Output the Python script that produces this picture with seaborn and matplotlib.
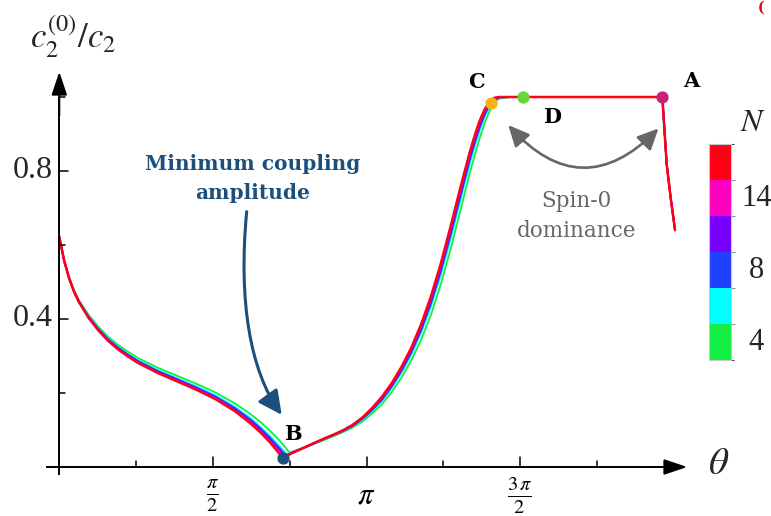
import matplotlib
matplotlib.use("Agg")
import matplotlib.pyplot as plt
import pandas as pd
import seaborn as sns
from matplotlib.patches import FancyArrowPatch
from matplotlib.path import Path
from matplotlib.colors import ListedColormap, BoundaryNorm
from matplotlib.cm import ScalarMappable

# ---------------------------------------------------------------- data
n_values = [4, 6, 8, 10, 14, 16]
n_colors = ["#12ee44", "#00ffff", "#1f40ff", "#7800ff", "#ff00c0", "#ff0014"]
n_labelled = [4, 8, 14]

# falling branch (theta from 0 up to the minimum)
theta_left = [0.00, 0.05, 0.10, 0.15, 0.20, 0.30, 0.40, 0.50, 0.60, 0.70,
              0.80, 1.00, 1.20, 1.40, 1.60, 1.80, 1.95, 2.05, 2.15, 2.25]
ratio_left = {
    4:  [0.622, 0.559, 0.513, 0.478, 0.451, 0.411, 0.379, 0.352, 0.330, 0.312,
         0.295, 0.269, 0.247, 0.225, 0.201, 0.171, 0.144, 0.123, 0.099, 0.072],
    6:  [0.622, 0.558, 0.512, 0.476, 0.449, 0.407, 0.375, 0.347, 0.325, 0.306,
         0.289, 0.263, 0.240, 0.218, 0.193, 0.162, 0.133, 0.110, 0.085, 0.057],
    8:  [0.622, 0.558, 0.511, 0.476, 0.448, 0.406, 0.373, 0.345, 0.323, 0.304,
         0.287, 0.260, 0.238, 0.215, 0.190, 0.158, 0.129, 0.106, 0.080, 0.051],
    10: [0.622, 0.557, 0.511, 0.475, 0.447, 0.405, 0.371, 0.343, 0.321, 0.302,
         0.285, 0.258, 0.235, 0.213, 0.187, 0.155, 0.125, 0.101, 0.075, 0.046],
    14: [0.622, 0.557, 0.510, 0.474, 0.446, 0.404, 0.370, 0.342, 0.319, 0.300,
         0.283, 0.256, 0.234, 0.211, 0.185, 0.152, 0.122, 0.098, 0.071, 0.041],
    16: [0.622, 0.557, 0.510, 0.474, 0.446, 0.403, 0.369, 0.341, 0.318, 0.299,
         0.282, 0.255, 0.232, 0.209, 0.183, 0.150, 0.119, 0.095, 0.068, 0.036],
}
# minimum of each curve (theta, ratio)
minimum = {4: (2.355, 0.039), 6: (2.325, 0.034), 8: (2.315, 0.031),
           10: (2.305, 0.029), 14: (2.295, 0.027), 16: (2.285, 0.025)}

# rising branch
theta_right = [2.40, 2.50, 2.60, 2.70, 2.80, 2.90, 3.00, 3.10, 3.20, 3.30,
               3.40, 3.50, 3.60, 3.70, 3.80, 3.90, 4.00, 4.10, 4.20, 4.25,
               4.30, 4.35, 4.40, 4.45, 4.50]
ratio_right = {
    4:  [0.043, 0.052, 0.062, 0.072, 0.083, 0.094, 0.107, 0.123, 0.145, 0.170,
         0.203, 0.242, 0.289, 0.344, 0.411, 0.493, 0.588, 0.692, 0.798, 0.845,
         0.890, 0.930, 0.962, 0.985, 0.996],
    6:  [0.042, 0.052, 0.063, 0.074, 0.085, 0.096, 0.110, 0.128, 0.152, 0.179,
         0.214, 0.255, 0.304, 0.363, 0.434, 0.518, 0.615, 0.720, 0.823, 0.869,
         0.911, 0.947, 0.973, 0.991, 0.998],
    8:  [0.041, 0.052, 0.063, 0.075, 0.086, 0.097, 0.111, 0.130, 0.154, 0.182,
         0.218, 0.260, 0.310, 0.370, 0.442, 0.528, 0.626, 0.730, 0.833, 0.878,
         0.919, 0.953, 0.978, 0.993, 0.999],
    10: [0.041, 0.052, 0.064, 0.075, 0.086, 0.098, 0.112, 0.132, 0.157, 0.186,
         0.221, 0.264, 0.316, 0.376, 0.450, 0.537, 0.636, 0.740, 0.842, 0.886,
         0.927, 0.958, 0.981, 0.995, 0.999],
    14: [0.040, 0.052, 0.064, 0.076, 0.087, 0.099, 0.113, 0.133, 0.159, 0.188,
         0.224, 0.268, 0.320, 0.381, 0.456, 0.543, 0.643, 0.748, 0.848, 0.893,
         0.932, 0.963, 0.985, 0.997, 1.000],
    16: [0.040, 0.052, 0.064, 0.076, 0.087, 0.099, 0.114, 0.134, 0.160, 0.190,
         0.227, 0.271, 0.323, 0.386, 0.461, 0.549, 0.649, 0.754, 0.854, 0.898,
         0.937, 0.967, 0.987, 0.998, 1.000],
}

# plateau and final drop, shared by all N
theta_top = [4.62, 6.166, 6.21, 6.25, 6.296]
ratio_top = [1.000, 1.000, 0.82, 0.73, 0.64]

# marked points
point_names = ["A", "B", "C", "D"]
point_theta = [6.166, 2.285, 4.41, 4.745]
point_ratio = [1.000, 0.025, 0.983, 1.000]
point_colors = ["#c8227a", "#1b4f7c", "#f7b21b", "#66d63a"]

# axis ticks
x_ticks = [0.7854 * k for k in range(1, 8)]
x_major = {2: r"$\frac{\pi}{2}$", 4: r"$\pi$", 6: r"$\frac{3\,\pi}{2}$"}
y_ticks = [0.2, 0.4, 0.6, 0.8, 1.0]
y_major = {0.4: "0.4", 0.8: "0.8"}

# ---------------------------------------------------------------- frame
rows = []
for n in n_values:
    th = theta_left + [minimum[n][0]] + theta_right + theta_top
    rv = ratio_left[n] + [minimum[n][1]] + ratio_right[n] + ratio_top
    rows += [{"theta": t, "ratio": r, "N": n} for t, r in zip(th, rv)]
df = pd.DataFrame(rows)

sns.set_style("white")
plt.rcParams["mathtext.fontset"] = "stix"
plt.rcParams["font.family"] = ["DejaVu Serif", "DejaVu Sans"]

W, H = 771, 516
fig = plt.figure(figsize=(W / 100, H / 100), dpi=100)
ax = fig.add_axes([0, 0, 1, 1])
ax.set_axis_off()

PX_X, X0 = 97.8, 59.3      # pixels per radian, pixel of theta = 0
PX_Y, Y0 = 370.0, 467.0    # pixels per unit ratio, pixel row of ratio = 0
ax.set_xlim(-X0 / PX_X, (W - X0) / PX_X)
ax.set_ylim((Y0 - H) / PX_Y, Y0 / PX_Y)

sns.lineplot(data=df, x="theta", y="ratio", hue="N", hue_order=n_values,
             palette=n_colors, sort=False, estimator=None, legend=False,
             linewidth=1.35, ax=ax)
for line in ax.lines:
    line.set_solid_joinstyle("round")
ax.lines[-1].set_linewidth(1.8)

# axes with arrow heads
ax.plot([-0.14, 6.2], [0, 0], color="black", lw=1.4, solid_capstyle="butt")
ax.plot([0, 0], [-0.022, 1.0], color="black", lw=1.4, solid_capstyle="butt")
head = dict(arrowstyle="-|>,head_length=0.95,head_width=0.32",
            mutation_scale=15, color="black", lw=1.4,
            shrinkA=0, shrinkB=0)
ax.annotate("", xy=(6.42, 0), xytext=(6.0, 0), arrowprops=head)
ax.annotate("", xy=(0, 1.068), xytext=(0, 0.95), arrowprops=head)

for k, xt in enumerate(x_ticks, start=1):
    ln = 10 if k in x_major else 6
    ax.plot([xt, xt], [0, ln / PX_Y], color="black", lw=1.1)
    if k in x_major:
        ax.text(xt, -0.077, x_major[k], ha="center", va="center",
                fontsize=22 if k == 4 else 21, color="black")
for yt in y_ticks:
    ln = 9 if yt in y_major else 5.5
    ax.plot([0, ln / PX_X], [yt, yt], color="black", lw=1.1)
    if yt in y_major:
        ax.text(-0.07, yt, y_major[yt], ha="right", va="center",
                fontsize=23, family="Liberation Serif")

ax.text(0.14, 1.163, r"$c_2^{(0)}/c_2$", ha="center", va="center", fontsize=25)
ax.text(6.746, 0.01, r"$\theta$", ha="center", va="center", fontsize=28)

# marked points
for tx, ry, c in zip(point_theta, point_ratio, point_colors):
    ax.plot(tx, ry, "o", ms=7.8, color=c, mec=c, zorder=5)

label_pos = {"A": (6.459, 1.028), "B": (2.39, 0.073),
             "C": (4.261, 1.024), "D": (5.038, 0.930)}
for name in point_names:
    x, y = label_pos[name]
    ax.text(x, y, name, ha="center", va="baseline", fontsize=15,
            fontweight="bold", family="DejaVu Serif", color="black")

# annotation: minimum coupling
navy = "#1b4f7c"
ax.text(1.981, 0.8027, "Minimum coupling", ha="center", va="baseline",
        fontsize=14.5, fontweight="bold", color=navy)
ax.text(1.981, 0.7243, "amplitude", ha="center", va="baseline",
        fontsize=14.5, fontweight="bold", color=navy)
verts = [(1.916, 0.690), (1.83, 0.45), (1.95, 0.26), (2.274, 0.141)]
curve = Path(verts, [Path.MOVETO, Path.CURVE4, Path.CURVE4, Path.CURVE4])
ax.add_patch(FancyArrowPatch(path=curve,
                             arrowstyle="-|>,head_length=0.9,head_width=0.45",
                             mutation_scale=16, color=navy, lw=2.2))

# annotation: spin-0 dominance
grey = "#666666"
ax.add_patch(FancyArrowPatch((4.591, 0.924), (6.127, 0.915),
                             connectionstyle="arc3,rad=0.53",
                             arrowstyle="<|-|>,head_length=0.85,head_width=0.4",
                             mutation_scale=15, color=grey, lw=1.9,
                             shrinkA=0, shrinkB=0))
ax.text(5.29, 0.7035, "Spin-0", ha="center", va="baseline",
        fontsize=15.5, color=grey)
ax.text(5.29, 0.6224, "dominance", ha="center", va="baseline",
        fontsize=15.5, color=grey)

# discrete colour bar for N
cax = fig.add_axes([709 / W, 1 - 360 / H, 22 / W, 216 / H])
sm = ScalarMappable(norm=BoundaryNorm(range(len(n_values) + 1), len(n_values)),
                    cmap=ListedColormap(n_colors))
cb = fig.colorbar(sm, cax=cax)
cb.outline.set_edgecolor("#c8c8c8")
cb.outline.set_linewidth(0.8)
cax.set_yticks(range(1, len(n_values)))
cax.set_yticklabels([])
cax.tick_params(axis="y", length=3, width=0.7, color="#888888", right=True,
                direction="out")
for n in n_labelled:
    i = n_values.index(n)
    cax.text(2.15, i + 0.5, str(n), transform=cax.get_yaxis_transform(),
             ha="center", va="center", fontsize=22, family="Liberation Serif")
cax.text(2.0, 1.1, r"$N$", transform=cax.transAxes, ha="center",
         va="center", fontsize=23)

# panel mark in the top-right corner
fig.text(758 / W, 1 - 1 / H, "(", color="#e00000", fontsize=10,
         fontweight="bold", ha="left", va="top")

fig.savefig("out.png", dpi=100)
